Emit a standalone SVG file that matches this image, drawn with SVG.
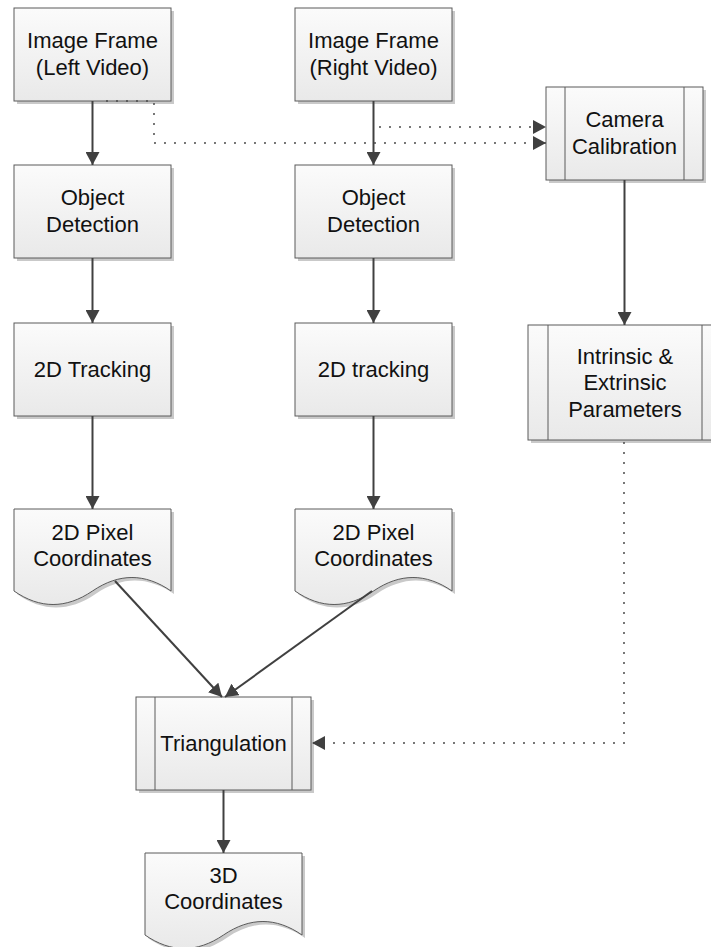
<svg xmlns="http://www.w3.org/2000/svg" width="711" height="947" viewBox="0 0 711 947">
  <style>
    .box { fill: url(#fillGrad); stroke: #5a5a5a; stroke-width: 1; }
    .shadow { fill: #c9c9c9; stroke: none; }
    .inner { stroke: #5a5a5a; stroke-width: 1; fill: none; }
    .label { font-family: "Liberation Sans", Arial, sans-serif; font-size: 22px; fill: #111111; text-anchor: middle; }
    .flow { stroke: #404040; stroke-width: 2; fill: none; marker-end: url(#arrowSolid); }
    .dotted { stroke: #4a4a4a; stroke-width: 2; fill: none; stroke-dasharray: 0 10; stroke-linecap: round; marker-end: url(#arrowSolid); }
  </style>
  <defs>
    <linearGradient id="fillGrad" x1="0" y1="0" x2="0" y2="1">
      <stop offset="0" stop-color="#fbfbfb"/>
      <stop offset="1" stop-color="#e9e9e9"/>
    </linearGradient>
    <marker id="arrowSolid" markerUnits="userSpaceOnUse" markerWidth="14" markerHeight="14" refX="13" refY="7" orient="auto">
      <path d="M0,0 L13,7 L0,14 Z" fill="#404040"/>
    </marker>
  </defs>

  <rect width="711" height="947" fill="#ffffff"/>

  <!-- Left column -->
  <g id="frame-left">
    <rect class="shadow" x="17" y="11" width="157" height="93"/>
    <rect class="box" x="14" y="8" width="157" height="93"/>
    <text class="label" x="92.5" y="48">Image Frame</text>
    <text class="label" x="92.5" y="74.5">(Left Video)</text>
  </g>
  <g id="detect-left">
    <rect class="shadow" x="17" y="168" width="157" height="93"/>
    <rect class="box" x="14" y="165" width="157" height="93"/>
    <text class="label" x="92.5" y="205">Object</text>
    <text class="label" x="92.5" y="231.5">Detection</text>
  </g>
  <g id="track-left">
    <rect class="shadow" x="17" y="326" width="157" height="93"/>
    <rect class="box" x="14" y="323" width="157" height="93"/>
    <text class="label" x="92.5" y="377">2D Tracking</text>
  </g>
  <g id="pixels-left">
    <path class="shadow" transform="translate(3,3)" d="M14,509 H171 V591 C145,573 119,573 92.5,591 C66,609 40,609 14,591 Z"/>
    <path class="box" d="M14,509 H171 V591 C145,573 119,573 92.5,591 C66,609 40,609 14,591 Z"/>
    <text class="label" x="92.5" y="539.5">2D Pixel</text>
    <text class="label" x="92.5" y="566">Coordinates</text>
  </g>

  <!-- Right column -->
  <g id="frame-right">
    <rect class="shadow" x="298" y="11" width="157" height="93"/>
    <rect class="box" x="295" y="8" width="157" height="93"/>
    <text class="label" x="373.5" y="48">Image Frame</text>
    <text class="label" x="373.5" y="74.5">(Right Video)</text>
  </g>
  <g id="detect-right">
    <rect class="shadow" x="298" y="168" width="157" height="93"/>
    <rect class="box" x="295" y="165" width="157" height="93"/>
    <text class="label" x="373.5" y="205">Object</text>
    <text class="label" x="373.5" y="231.5">Detection</text>
  </g>
  <g id="track-right">
    <rect class="shadow" x="298" y="326" width="157" height="93"/>
    <rect class="box" x="295" y="323" width="157" height="93"/>
    <text class="label" x="373.5" y="377">2D tracking</text>
  </g>
  <g id="pixels-right">
    <path class="shadow" transform="translate(3,3)" d="M295,509 H452 V591 C426,573 400,573 373.5,591 C347,609 321,609 295,591 Z"/>
    <path class="box" d="M295,509 H452 V591 C426,573 400,573 373.5,591 C347,609 321,609 295,591 Z"/>
    <text class="label" x="373.5" y="539.5">2D Pixel</text>
    <text class="label" x="373.5" y="566">Coordinates</text>
  </g>

  <!-- Calibration branch -->
  <g id="calibration">
    <rect class="shadow" x="549" y="90" width="157" height="93"/>
    <rect class="box" x="546" y="87" width="157" height="93"/>
    <line class="inner" x1="565" y1="87" x2="565" y2="180"/>
    <line class="inner" x1="684" y1="87" x2="684" y2="180"/>
    <text class="label" x="624.5" y="127">Camera</text>
    <text class="label" x="624.5" y="153.5">Calibration</text>
  </g>
  <g id="parameters">
    <rect class="shadow" x="531" y="328" width="194" height="115"/>
    <rect class="box" x="528" y="325" width="194" height="115"/>
    <line class="inner" x1="548" y1="325" x2="548" y2="440"/>
    <line class="inner" x1="702" y1="325" x2="702" y2="440"/>
    <text class="label" x="625" y="363.5">Intrinsic &amp;</text>
    <text class="label" x="625" y="390">Extrinsic</text>
    <text class="label" x="625" y="416.5">Parameters</text>
  </g>

  <!-- Output stage -->
  <g id="triangulation">
    <rect class="shadow" x="139" y="700" width="175" height="93"/>
    <rect class="box" x="136" y="697" width="175" height="93"/>
    <line class="inner" x1="155" y1="697" x2="155" y2="790"/>
    <line class="inner" x1="292" y1="697" x2="292" y2="790"/>
    <text class="label" x="223.5" y="751">Triangulation</text>
  </g>
  <g id="coords-3d">
    <path class="shadow" transform="translate(3,3)" d="M145,853 H302 V935 C276,917 250,917 223.5,935 C197,953 171,953 145,935 Z"/>
    <path class="box" d="M145,853 H302 V935 C276,917 250,917 223.5,935 C197,953 171,953 145,935 Z"/>
    <text class="label" x="223.5" y="883">3D</text>
    <text class="label" x="223.5" y="909">Coordinates</text>
  </g>

  <!-- Connectors -->
  <g id="connectors">
    <line class="flow" x1="92.5" y1="101" x2="92.5" y2="165"/>
    <line class="flow" x1="92.5" y1="258" x2="92.5" y2="323"/>
    <line class="flow" x1="92.5" y1="416" x2="92.5" y2="509"/>
    <line class="flow" x1="373.5" y1="101" x2="373.5" y2="165"/>
    <line class="flow" x1="373.5" y1="258" x2="373.5" y2="323"/>
    <line class="flow" x1="373.5" y1="416" x2="373.5" y2="509"/>
    <line class="flow" x1="624.5" y1="180" x2="624.5" y2="325"/>
    <line class="flow" x1="115" y1="581" x2="222" y2="697"/>
    <line class="flow" x1="372" y1="591" x2="225" y2="697"/>
    <line class="flow" x1="223.5" y1="790" x2="223.5" y2="853"/>
    <path class="dotted" d="M107,101 H154 V143 H546"/>
    <path class="dotted" d="M380,127 H546"/>
    <path class="dotted" d="M624,443 V743 H312"/>
  </g>
</svg>
